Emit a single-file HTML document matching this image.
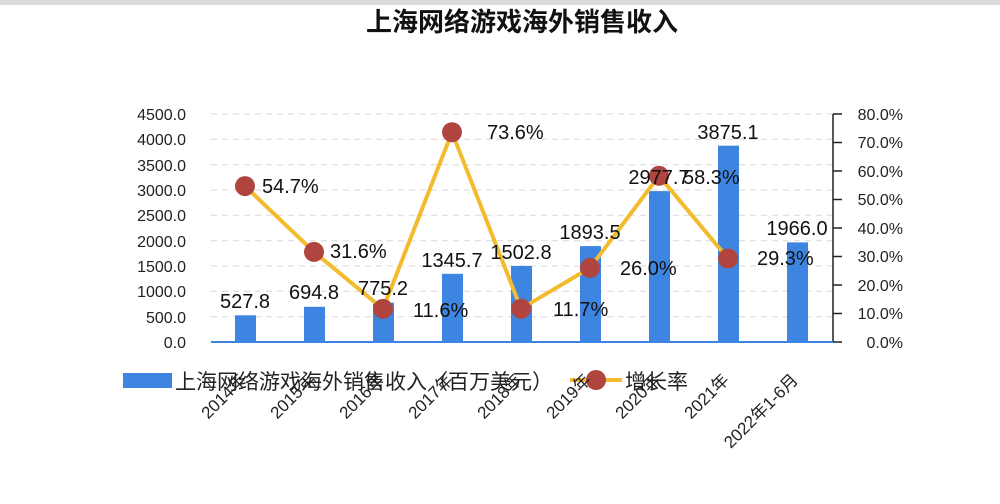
<!DOCTYPE html>
<html><head><meta charset="utf-8"><style>
body{margin:0;background:#fff;}
svg{display:block;font-family:"Liberation Sans","Noto Sans CJK SC",sans-serif;}
</style></head><body>
<svg width="1000" height="504" xmlns="http://www.w3.org/2000/svg">
<rect x="0" y="0" width="1000" height="5" fill="#dcdcdc"/>
<text x="522" y="31" font-size="26" font-weight="bold" text-anchor="middle" fill="#111">上海网络游戏海外销售收入</text>
<g stroke="#d8d8d8" stroke-dasharray="6,5" stroke-width="1">
<line x1="211" y1="114" x2="833" y2="114"/><line x1="211" y1="139.3" x2="833" y2="139.3"/>
<line x1="211" y1="164.7" x2="833" y2="164.7"/><line x1="211" y1="190" x2="833" y2="190"/>
<line x1="211" y1="215.3" x2="833" y2="215.3"/><line x1="211" y1="240.7" x2="833" y2="240.7"/>
<line x1="211" y1="266" x2="833" y2="266"/><line x1="211" y1="291.3" x2="833" y2="291.3"/>
<line x1="211" y1="316.7" x2="833" y2="316.7"/>
</g>
<g font-size="16" fill="#222" text-anchor="end">
<text x="186" y="120">4500.0</text><text x="186" y="145">4000.0</text><text x="186" y="171">3500.0</text>
<text x="186" y="196">3000.0</text><text x="186" y="221">2500.0</text><text x="186" y="247">2000.0</text>
<text x="186" y="272">1500.0</text><text x="186" y="297">1000.0</text><text x="186" y="323">500.0</text>
<text x="186" y="348">0.0</text>
</g>
<g stroke="#222" stroke-width="1.5">
<line x1="833" y1="114" x2="833" y2="342"/>
<line x1="833" y1="114" x2="842" y2="114"/><line x1="833" y1="142.5" x2="842" y2="142.5"/>
<line x1="833" y1="171" x2="842" y2="171"/><line x1="833" y1="199.5" x2="842" y2="199.5"/>
<line x1="833" y1="228" x2="842" y2="228"/><line x1="833" y1="256.5" x2="842" y2="256.5"/>
<line x1="833" y1="285" x2="842" y2="285"/><line x1="833" y1="313.5" x2="842" y2="313.5"/>
<line x1="833" y1="342" x2="842" y2="342"/>
</g>
<g font-size="16" fill="#222" text-anchor="end">
<text x="903" y="120">80.0%</text><text x="903" y="148">70.0%</text><text x="903" y="177">60.0%</text>
<text x="903" y="205">50.0%</text><text x="903" y="234">40.0%</text><text x="903" y="262">30.0%</text>
<text x="903" y="291">20.0%</text><text x="903" y="319">10.0%</text><text x="903" y="348">0.0%</text>
</g>
<g fill="#3d85e0">
<rect x="235" y="315.3" width="21" height="26.7"/>
<rect x="304" y="306.8" width="21" height="35.2"/>
<rect x="373" y="302.7" width="21" height="39.3"/>
<rect x="442" y="273.8" width="21" height="68.2"/>
<rect x="511" y="265.9" width="21" height="76.1"/>
<rect x="580" y="246.1" width="21" height="95.9"/>
<rect x="649" y="191.1" width="21" height="150.9"/>
<rect x="718" y="145.7" width="21" height="196.3"/>
<rect x="787" y="242.4" width="21" height="99.6"/>
</g>
<line x1="211" y1="342" x2="833" y2="342" stroke="#3d85e0" stroke-width="2"/>
<polyline points="245,186.1 314,251.9 383,308.9 452,132.2 521,308.7 590,267.9 659,175.8 728,258.5" fill="none" stroke="#f2bc2e" stroke-width="4" stroke-linejoin="round"/>
<g fill="#b04540">
<circle cx="245" cy="186.1" r="10"/><circle cx="314" cy="251.9" r="10"/>
<circle cx="383" cy="308.9" r="10"/><circle cx="452" cy="132.2" r="10"/>
<circle cx="521" cy="308.7" r="10"/><circle cx="590" cy="267.9" r="10"/>
<circle cx="659" cy="175.8" r="10"/><circle cx="728" cy="258.5" r="10"/>
</g>
<g font-size="20" fill="#111" text-anchor="middle">
<text x="245" y="308">527.8</text><text x="314" y="299">694.8</text><text x="383" y="295">775.2</text>
<text x="452" y="267">1345.7</text><text x="521" y="259">1502.8</text><text x="590" y="239">1893.5</text>
<text x="659" y="184">2977.7</text><text x="728" y="139">3875.1</text><text x="797" y="235">1966.0</text>
</g>
<g font-size="20" fill="#111">
<text x="262" y="193">54.7%</text><text x="330" y="258">31.6%</text><text x="413" y="317">11.6%</text>
<text x="487" y="139">73.6%</text><text x="553" y="316">11.7%</text><text x="620" y="275">26.0%</text>
<text x="683" y="184">58.3%</text><text x="757" y="265">29.3%</text>
</g>
<rect x="123" y="373" width="49" height="15" fill="#3d85e0"/>
<text x="175" y="389" font-size="21" fill="#222">上海网络游戏海外销售收入（百万美元）</text>
<line x1="570" y1="380" x2="622" y2="380" stroke="#f2bc2e" stroke-width="4"/>
<circle cx="596" cy="380" r="10" fill="#b04540"/>
<text x="625" y="389" font-size="21" fill="#222">增长率</text>
<g font-size="17" fill="#222" text-anchor="end">
<text transform="translate(247,381) rotate(-45)">2014年</text>
<text transform="translate(316,381) rotate(-45)">2015年</text>
<text transform="translate(385,381) rotate(-45)">2016年</text>
<text transform="translate(454,381) rotate(-45)">2017年</text>
<text transform="translate(523,381) rotate(-45)">2018年</text>
<text transform="translate(592,381) rotate(-45)">2019年</text>
<text transform="translate(661,381) rotate(-45)">2020年</text>
<text transform="translate(730,381) rotate(-45)">2021年</text>
<text transform="translate(799,381) rotate(-45)">2022年1-6月</text>
</g>
</svg>
</body></html>
